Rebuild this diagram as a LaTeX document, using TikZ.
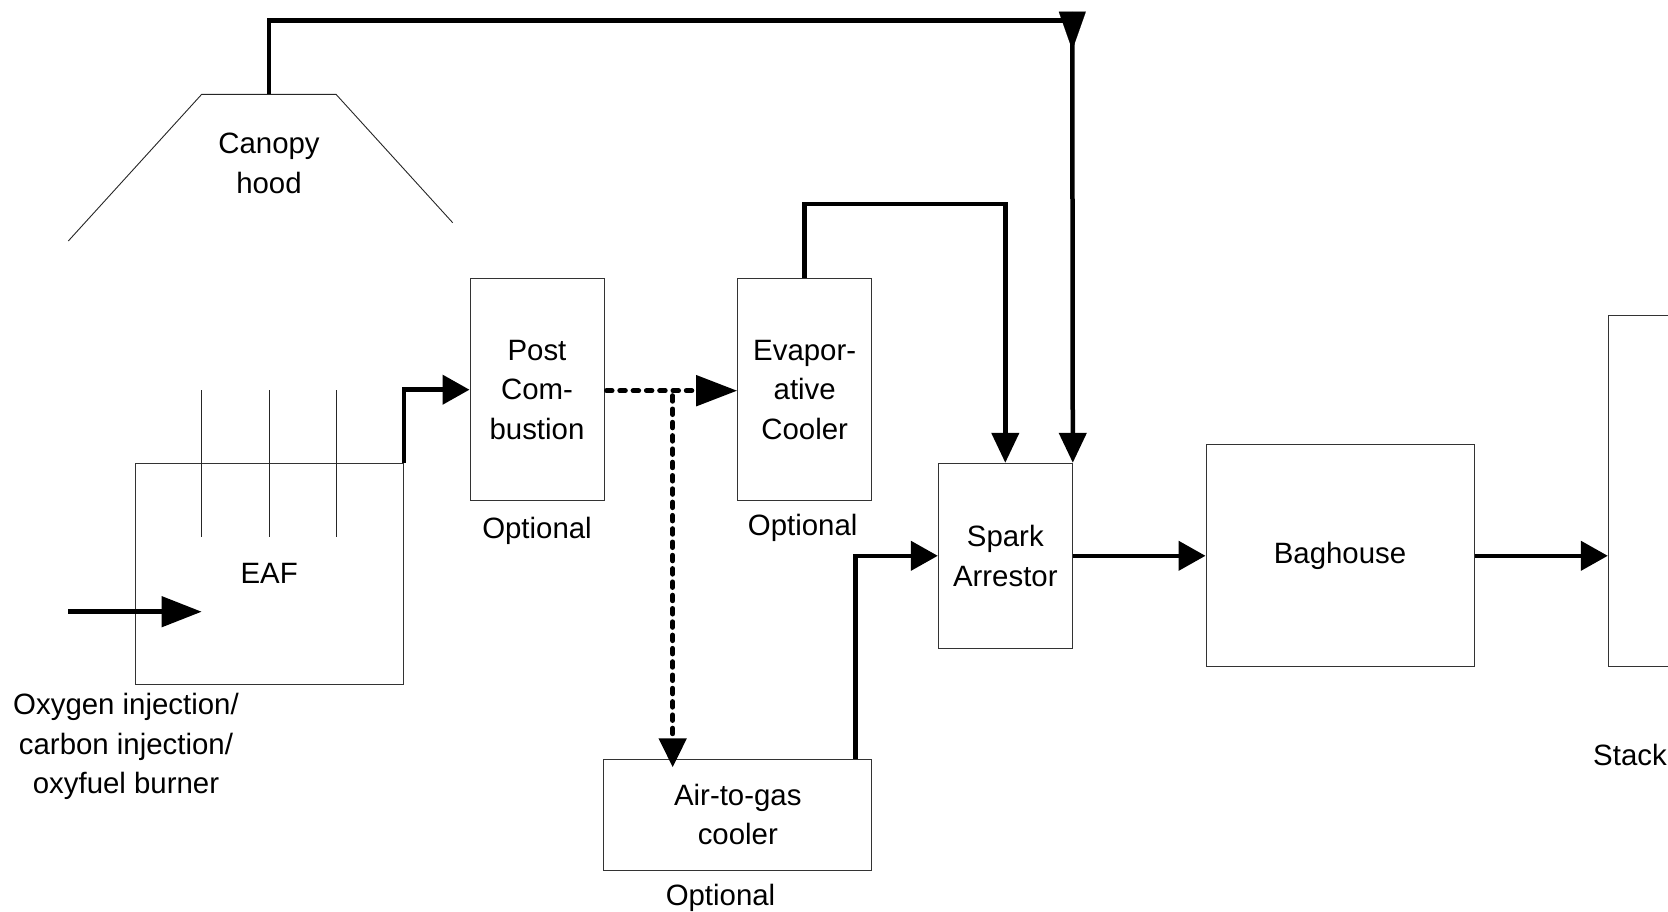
\documentclass[tikz,border=0pt]{standalone}
\usepackage{fontspec}
\setmainfont{Liberation Sans}
\usetikzlibrary{arrows.meta,calc}
\tikzset{
  box/.style={draw=black!80,line width=1pt,inner sep=0pt,align=center},
  lbl/.style={inner sep=0pt,align=center},
  flow/.style={line width=4.5pt,-{Triangle[length=27pt,width=29pt]}},
  bigflow/.style={line width=4.5pt,-{Triangle[length=40pt,width=30pt]}},
  downflow/.style={line width=4.5pt,-{Triangle[length=30pt,width=27pt]}},
  plain/.style={line width=4.5pt},
  dotted line/.style={line width=5pt,line cap=round,dash pattern=on 5.5pt off 7.8pt},
  thin/.style={line width=0.9pt,draw=black!85},
}
\begin{document}
\begin{tikzpicture}[x=1pt,y=-1pt,font=\fontsize{29.4}{39.5}\selectfont]
\clip (0,0) rectangle (1668,911);
\fill[white] (0,0) rectangle (1668,911);

% boxes
\node[box,minimum width=268.3pt,minimum height=221pt] (eaf) at (269.2,573.8) {EAF};
\node[box,minimum width=134pt,minimum height=222pt] (post) at (537,389.7) {Post\\Com-\\bustion};
\node[box,minimum width=134pt,minimum height=222pt] (evap) at (804.7,389.7) {Evapor-\\ative\\Cooler};
\node[box,minimum width=134pt,minimum height=185pt] (spark) at (1005.3,555.8) {Spark\\Arrestor};
\node[box,minimum width=268pt,minimum height=221.7pt] (bag) at (1340,555.8) {Baghouse};
\node[box,minimum width=134pt,minimum height=351pt] (stack) at (1675.3,491) {};
\node[box,minimum width=267.7pt,minimum height=111pt] (air) at (737.8,814.5) {Air-to-gas\\cooler};

% canopy hood
\coordinate (hoodL) at (68.3,241);
\coordinate (hoodTL) at (201.7,94.3);
\coordinate (hoodTR) at (336,94.3);
\coordinate (hoodR) at (452.7,222.7);
\coordinate (hoodtop) at (269,94.3);
\draw[thin] (hoodL) -- (hoodTL) -- (hoodTR) -- (hoodR);
\node[lbl] (canopy) at (269,163.5) {Canopy\\hood};

% electrodes
\foreach \x/\n in {201.7/a,269/b,336/c}{
  \coordinate (el\n1) at (\x,390);
  \coordinate (el\n2) at (\x,536.7);
  \draw[thin] (el\n1) -- (el\n2);
}

% labels
\node[lbl,anchor=base] (optpost) at (537,538.3) {Optional};
\node[lbl,anchor=base] (optevap) at (802.7,535) {Optional};
\node[lbl,anchor=base] (optair) at (720.5,905) {Optional};
\node[lbl,anchor=base west] (stacklbl) at (1593,765.2) {Stack};
\node[lbl] (oxy) at (126,746.4) {Oxygen injection/\\carbon injection/\\oxyfuel burner};

% injection arrow
\coordinate (ox1) at (68.3,611.7);
\coordinate (ox2) at (201.7,611.7);
\draw[bigflow] (ox1) -- (ox2);

% EAF -> Post combustion
\draw[flow] (eaf.north east) |- (post.west);

% Post combustion -> Evaporative cooler (dotted)
\coordinate (split) at (672.7,390.7);
\coordinate (airtip) at (672.7,767.3);
\draw[dotted line,-{Triangle[length=41pt,width=30pt]}] ([xshift=2pt,yshift=-1pt]post.east) -- ([yshift=-1pt]evap.west);
\draw[dotted line,-{Triangle[length=29pt,width=27pt]}] ([yshift=-5pt]split) -- (airtip);

% Air-to-gas cooler -> Spark arrestor
\draw[flow] ([xshift=-16.7pt]air.north east) |- (spark.west);

% Evaporative cooler -> Spark arrestor
\draw[downflow] (evap.north) -- ++(0,-74) -| (spark.north);

% Canopy hood -> Spark arrestor
\coordinate (tri1) at (1072.3,11.7);
\coordinate (tri2) at (1072.3,50);
\coordinate (topend) at (1063,20.7);
\draw[plain] (hoodtop) |- (topend);
\draw[line width=0.1pt,-{Triangle[length=38.3pt,width=27pt]}] (tri1) -- (tri2);
\draw[downflow] ([yshift=9pt]tri2) -- (spark.north east);

% Spark arrestor -> Baghouse -> Stack
\draw[flow] (spark.east) -- (bag.west);
\draw[flow] (bag.east) -- (stack.west |- bag.east);
\end{tikzpicture}
\end{document}
